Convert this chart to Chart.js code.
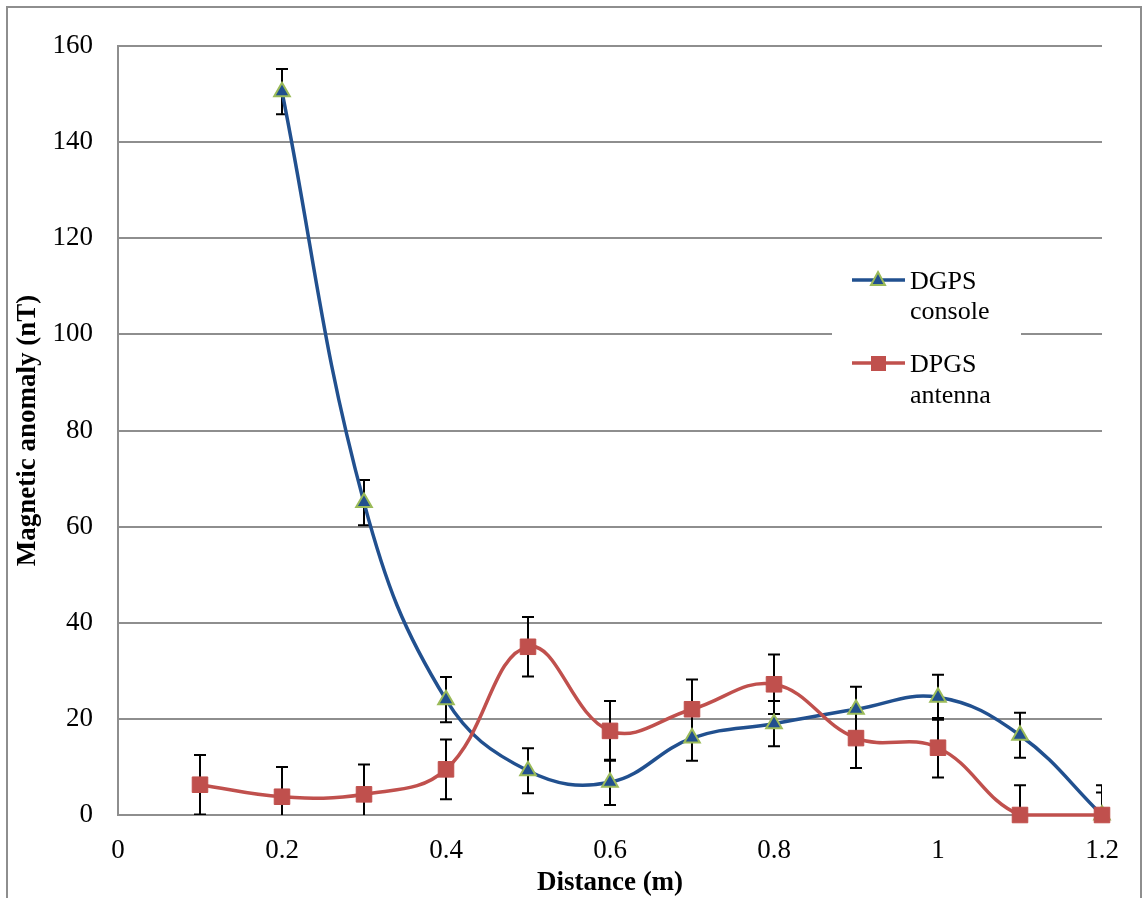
<!DOCTYPE html>
<html>
<head>
    <script src="https://cdn.jsdelivr.net/npm/chart.js@4.4.1/dist/chart.umd.min.js"></script>
    <style>
    body {
        margin: 0;
        background-color: #ffffff;
    }
    </style>
    <title>Magnetic anomaly vs distance</title>
</head>
<body>

<canvas id="myChart" width="1144" height="898"></canvas>

<script>
    // distance (m) and anomaly (nT) per series, with error bar half-widths
    var consoleDist = [0.2, 0.3, 0.4, 0.5, 0.6, 0.7, 0.8, 0.9, 1.0, 1.1, 1.2];
    var consoleVals = [150.5, 65, 24, 9.2, 6.8, 16, 19, 22, 24.5, 16.6, 0];
    var consoleErr  = [4.7, 4.7, 4.7, 4.7, 4.7, 4.7, 4.7, 4.7, 4.7, 4.7, 4.7];

    var antennaDist = [0.1, 0.2, 0.3, 0.4, 0.5, 0.6, 0.7, 0.8, 0.9, 1.0, 1.1, 1.2];
    var antennaVals = [6.3, 3.8, 4.3, 9.5, 35, 17.5, 22, 27.2, 16, 14, 0, 0];
    var antennaErr  = [6.2, 6.2, 6.2, 6.2, 6.2, 6.2, 6.2, 6.2, 6.2, 6.2, 6.2, 6.2];

    var xTicks = [0, 0.2, 0.4, 0.6, 0.8, 1, 1.2];
    var yTicks = [0, 20, 40, 60, 80, 100, 120, 140, 160];

    var seriesNames = [['DGPS', 'console'], ['DPGS', 'antenna']];

    var blue = '#21508f';
    var green = '#9bbb59';
    var red = '#c0504d';
    var gridGray = '#8e8e8e';
    var serif = '"Liberation Serif", "Times New Roman", serif';

    function toPoints(xs, ys) {
        var pts = [];
        for (let i = 0; i < xs.length; i++) {
            pts.push({x: xs[i], y: ys[i]});
        }
        return pts;
    }

    // error bars drawn under the markers, clipped to the plot area
    var errorBars = {
        id: 'errorBars',
        beforeDatasetsDraw: function(chart) {
            var ctx = chart.ctx;
            var xs = chart.scales.x, ys = chart.scales.y;
            var area = chart.chartArea;
            var sets = [[consoleDist, consoleVals, consoleErr], [antennaDist, antennaVals, antennaErr]];
            ctx.save();
            ctx.beginPath();
            ctx.rect(area.left, area.top - 20, area.right - area.left, area.bottom - area.top + 20);
            ctx.clip();
            ctx.strokeStyle = '#000000';
            ctx.lineWidth = 2;
            sets.forEach(function(s) {
                for (let i = 0; i < s[0].length; i++) {
                    var px = xs.getPixelForValue(s[0][i]);
                    var top = ys.getPixelForValue(s[1][i] + s[2][i]);
                    var bot = ys.getPixelForValue(s[1][i] - s[2][i]);
                    ctx.beginPath();
                    ctx.moveTo(px, top);
                    ctx.lineTo(px, bot);
                    ctx.moveTo(px - 6, top);
                    ctx.lineTo(px + 6, top);
                    ctx.moveTo(px - 6, bot);
                    ctx.lineTo(px + 6, bot);
                    ctx.stroke();
                }
            });
            ctx.restore();
        }
    };

    // outer frame plus the boxed legend inside the plot
    var frameAndLegend = {
        id: 'frameAndLegend',
        beforeDraw: function(chart) {
            var ctx = chart.ctx;
            ctx.save();
            ctx.strokeStyle = gridGray;
            ctx.lineWidth = 2;
            ctx.strokeRect(7, 7, 1134, 905);
            ctx.restore();
        },
        afterDraw: function(chart) {
            var ctx = chart.ctx;
            ctx.save();
            ctx.fillStyle = '#ffffff';
            ctx.fillRect(832, 250, 189, 170);

            // DGPS console entry
            ctx.strokeStyle = blue;
            ctx.lineWidth = 3.5;
            ctx.beginPath();
            ctx.moveTo(852, 280);
            ctx.lineTo(905, 280);
            ctx.stroke();
            ctx.beginPath();
            ctx.moveTo(878, 272);
            ctx.lineTo(885, 285);
            ctx.lineTo(871, 285);
            ctx.closePath();
            ctx.fillStyle = blue;
            ctx.fill();
            ctx.strokeStyle = green;
            ctx.lineWidth = 2;
            ctx.stroke();

            // DPGS antenna entry
            ctx.strokeStyle = red;
            ctx.lineWidth = 3.5;
            ctx.beginPath();
            ctx.moveTo(852, 363);
            ctx.lineTo(905, 363);
            ctx.stroke();
            ctx.fillStyle = red;
            ctx.fillRect(871, 356, 15, 15);

            ctx.fillStyle = '#000000';
            ctx.font = '26px ' + serif;
            ctx.textBaseline = 'middle';
            ctx.textAlign = 'left';
            ctx.fillText(seriesNames[0][0], 910, 282);
            ctx.fillText(seriesNames[0][1], 910, 312);
            ctx.fillText(seriesNames[1][0], 910, 365);
            ctx.fillText(seriesNames[1][1], 910, 396);
            ctx.restore();
        }
    };

    var ctx = document.getElementById('myChart').getContext('2d');
    var myChart = new Chart(ctx, {
        type: 'line',
        data: {
            datasets: [
                {
                    label: seriesNames[0].join(' '),
                    data: toPoints(consoleDist, consoleVals),
                    order: 1,
                    borderColor: blue,
                    borderWidth: 3.5,
                    tension: 0.4,
                    pointStyle: 'triangle',
                    pointRadius: 9,
                    pointBackgroundColor: blue,
                    pointBorderColor: green,
                    pointBorderWidth: 2,
                    clip: false
                },
                {
                    label: seriesNames[1].join(' '),
                    data: toPoints(antennaDist, antennaVals),
                    order: 0,
                    borderColor: red,
                    borderWidth: 3.5,
                    tension: 0.4,
                    pointStyle: 'rect',
                    pointRadius: 11,
                    pointBackgroundColor: red,
                    pointBorderColor: red,
                    pointBorderWidth: 1,
                    clip: false
                }
            ]
        },
        options: {
            responsive: false,
            animation: false,
            layout: {
                padding: {left: 0, top: 46, right: 42, bottom: 0}
            },
            plugins: {
                legend: {display: false},
                tooltip: {enabled: false}
            },
            scales: {
                x: {
                    type: 'linear',
                    min: 0,
                    max: 1.2,
                    afterBuildTicks: function(scale) {
                        scale.ticks = xTicks.map(function(v) { return {value: v}; });
                    },
                    afterFit: function(scale) { scale.height = 83; },
                    grid: {display: false, drawTicks: false},
                    border: {display: true, color: gridGray, width: 2},
                    ticks: {
                        color: '#000000',
                        font: {family: serif, size: 27},
                        padding: 20,
                        maxRotation: 0,
                        callback: function(v) { return String(v); }
                    },
                    title: {
                        display: true,
                        text: 'Distance (m)',
                        color: '#000000',
                        font: {family: serif, size: 27, weight: 'bold', lineHeight: 1},
                        padding: {top: 0, bottom: 1}
                    }
                },
                y: {
                    min: 0,
                    max: 160,
                    afterBuildTicks: function(scale) {
                        scale.ticks = yTicks.map(function(v) { return {value: v}; });
                    },
                    afterFit: function(scale) { scale.width = 118; },
                    grid: {color: gridGray, lineWidth: 2, drawTicks: false},
                    border: {display: true, color: gridGray, width: 2},
                    ticks: {
                        color: '#000000',
                        font: {family: serif, size: 27},
                        padding: 25
                    },
                    title: {
                        display: true,
                        text: 'Magnetic anomaly (nT)',
                        color: '#000000',
                        font: {family: serif, size: 27, weight: 'bold', lineHeight: 1},
                        padding: {top: 15, bottom: 0}
                    }
                }
            }
        },
        plugins: [errorBars, frameAndLegend]
    });
</script>

</body>
</html>
